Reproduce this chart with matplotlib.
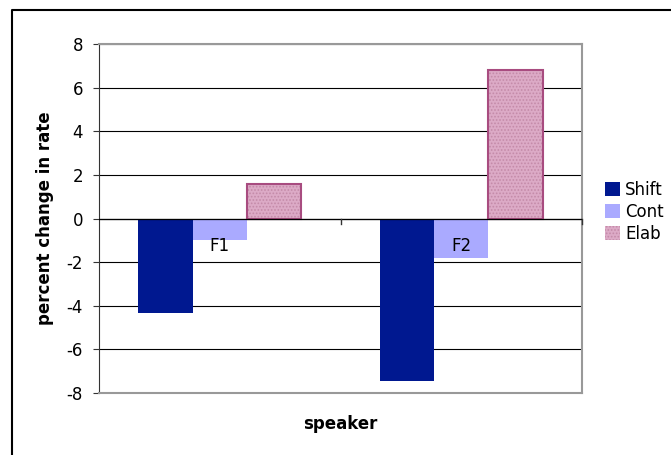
import numpy as np
import matplotlib.pyplot as plt
from matplotlib.lines import Line2D

speakers = ['F1', 'F2']
series = ['Shift', 'Cont', 'Elab']
shift = [-4.35, -7.45]
cont = [-1.0, -1.8]
elab = [1.6, 6.8]
yticks = [-8, -6, -4, -2, 0, 2, 4, 6, 8]

plt.rcParams['hatch.linewidth'] = 0.8
fs = 12

fig = plt.figure(figsize=(6.71, 4.55), dpi=100)
ax = fig.add_axes([99 / 671, 1 - 393 / 455, 483 / 671, 349 / 455])

x = np.arange(len(speakers))
w = 0.225
ax.bar(x - w, shift, w, color='#001890', label=series[0], zorder=3)
ax.bar(x, cont, w, color='#aaaaff', label=series[1], zorder=3)
ax.bar(x + w, elab, w, color='#dcaac6', edgecolor='#c48aa8', hatch='.....',
       linewidth=0, label=series[2], zorder=3)
# outline drawn separately so the hatch colour stays light
ax.bar(x + w, elab, w, facecolor='none', edgecolor='#a84c80', linewidth=1.5, zorder=4)

ax.set_xlim(-0.5, 1.5)
ax.set_ylim(-8, 8)
ax.set_yticks(yticks)
ax.set_yticklabels([str(t) for t in yticks], fontsize=fs)
ax.tick_params(axis='y', direction='out', length=4.5, color='#333333', pad=7)
ax.set_xticks([])
ax.grid(axis='y', color='black', linewidth=0.8, zorder=1)

for side in ['top', 'right', 'bottom']:
    ax.spines[side].set_color('#999999')
    ax.spines[side].set_linewidth(1.5)
ax.spines['left'].set_color('#333333')

# category axis at zero with its small ticks
ax.axhline(0, color='black', linewidth=0.9, zorder=5)
for xt in [0.5, 1.5]:
    ax.plot([xt, xt], [0, -0.25], color='#333333', lw=1, zorder=5, clip_on=False)
for xi, name in zip(x, speakers):
    ax.annotate(name, xy=(xi, 0), xytext=(0, -19.5), textcoords='offset points',
                ha='center', va='center', fontsize=fs, zorder=6)

fig.text(45 / 671, 1 - 218 / 455, 'percent change in rate', rotation=90,
         ha='center', va='center', fontsize=fs, fontweight='bold')
fig.text(340 / 671, 1 - 424 / 455, 'speaker', ha='center', va='center',
         fontsize=fs, fontweight='bold')

leg = ax.legend(loc='center left', bbox_to_anchor=(605 / 671, 1 - 212 / 455),
                bbox_transform=fig.transFigure, frameon=False, fontsize=fs,
                handlelength=0.9, handleheight=0.9, handletextpad=0.3,
                labelspacing=0.25, borderaxespad=0, borderpad=0)

# chart frame (left and top edges)
fig.add_artist(Line2D([12 / 671, 12 / 671, 1.0], [0.0, 1 - 10 / 455, 1 - 10 / 455],
                      color='black', linewidth=1.5, transform=fig.transFigure))

fig.savefig('out.png', dpi=100)
